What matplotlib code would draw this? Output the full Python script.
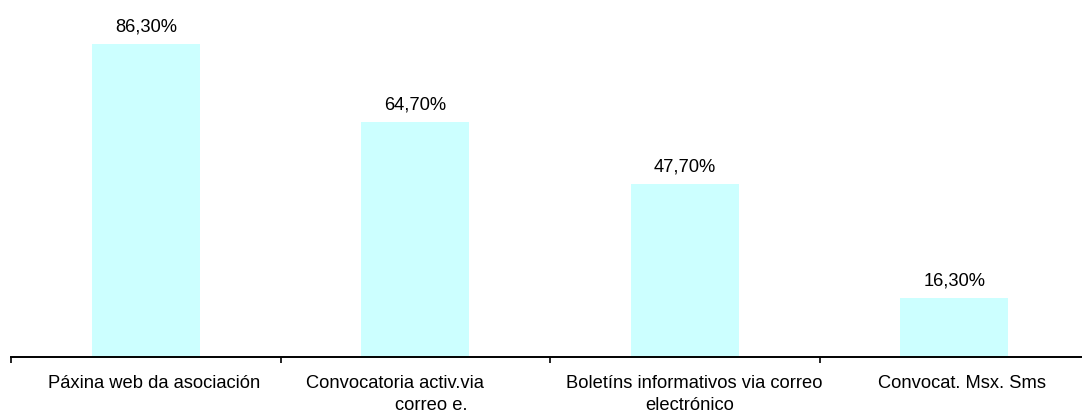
import matplotlib
matplotlib.use("Agg")
import matplotlib.pyplot as plt
from matplotlib.transforms import offset_copy

categories = ["Páxina web da asociación",
              "Convocatoria activ.via\ncorreo e.",
              "Boletíns informativos via correo\nelectrónico",
              "Convocat. Msx. Sms"]
values = [86.3, 64.7, 47.7, 16.3]
value_labels = ["86,30%", "64,70%", "47,70%", "16,30%"]

# per-line horizontal pixel offsets of the category labels (layout only)
line_offsets = [[8], [-20, 16], [10, 5], [8]]

plt.rcParams['font.family'] = ['Liberation Sans', 'DejaVu Sans']

W, H = 1082, 416
fig = plt.figure(figsize=(W / 100, H / 100), dpi=100)
left_px, right_px = 11, 1089
bottom_px = 357
top_px = -6
ax = fig.add_axes([left_px / W, (H - bottom_px) / H,
                   (right_px - left_px) / W, (bottom_px - top_px) / H])
ax.set_xlim(-0.5, len(categories) - 0.5)
ax.set_ylim(0, 100)

x = list(range(len(categories)))
ax.bar(x, values, width=0.40, color="#CCFFFF", edgecolor="none", zorder=1)

for xi, v, lab in zip(x, values, value_labels):
    ax.annotate(lab, (xi, v), xytext=(0, 12.0), textcoords="offset points",
                ha="center", va="center", fontsize=13.2, color="#000000")

for s in ("top", "left", "right"):
    ax.spines[s].set_visible(False)
ax.spines["bottom"].set_linewidth(1.4)
ax.spines["bottom"].set_color("#000000")
ax.spines["bottom"].set_zorder(3)
ax.set_yticks([])
ax.set_xticks([i - 0.5 for i in range(len(categories) + 1)])
ax.set_xticklabels([])
ax.tick_params(axis="x", direction="out", length=4, width=1.2, color="#000000")

for xi, cat, offs in zip(x, categories, line_offsets):
    lines = cat.split("\n")
    for li, (line, off) in enumerate(zip(lines, offs)):
        tr = offset_copy(ax.get_xaxis_transform(), fig=fig,
                         x=off * 72 / 100, y=-(26 + li * 23) * 72 / 100, units="points")
        ax.text(xi, 0, line, transform=tr, ha="center", va="center",
                fontsize=13.2, color="#000000")

fig.savefig("out.png", dpi=100)
